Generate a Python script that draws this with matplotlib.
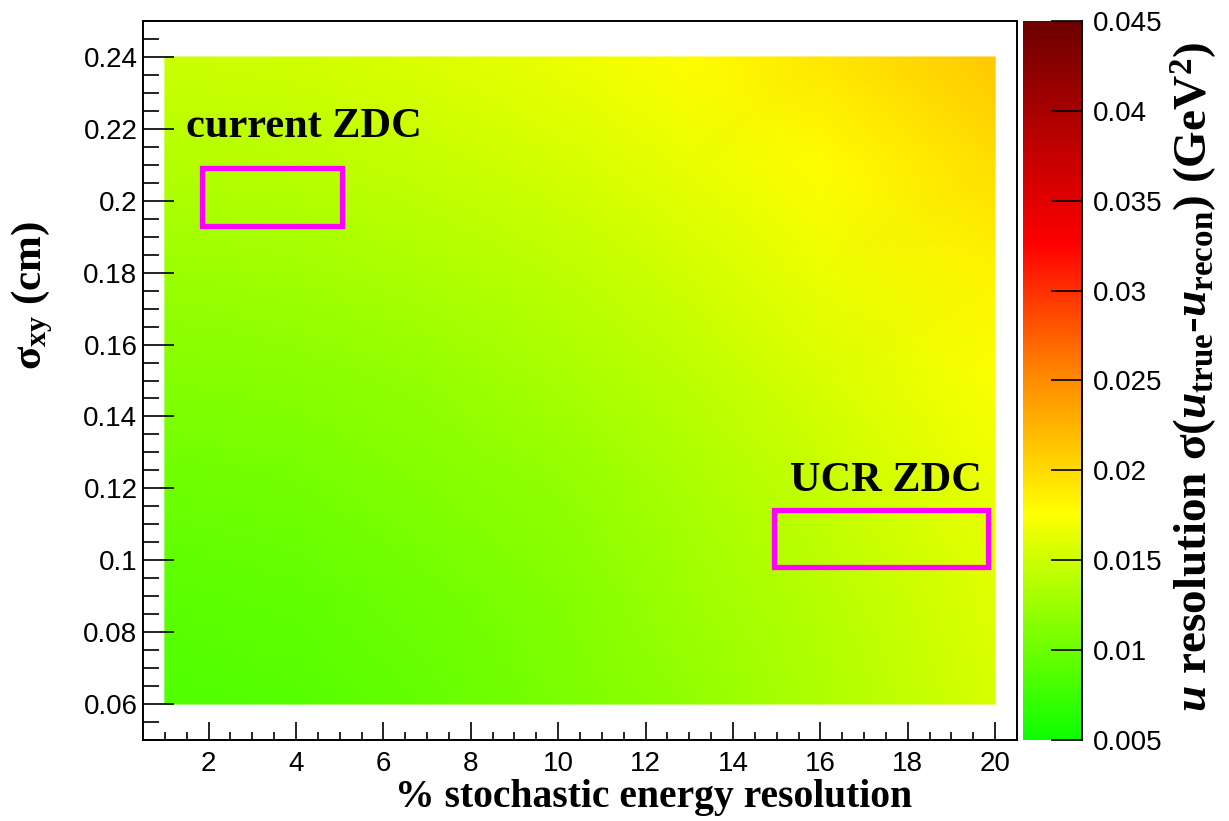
import numpy as np
import matplotlib
matplotlib.use('Agg')
import matplotlib.pyplot as plt
from matplotlib.colors import LinearSegmentedColormap
from matplotlib.patches import Rectangle
from matplotlib.ticker import MultipleLocator, FuncFormatter

# stochastic energy resolution (%) and position resolution sigma_xy (cm)
stoch = [1, 4, 7, 10, 13, 16, 20]
sigma_xy = [0.06, 0.09, 0.12, 0.15, 0.18, 0.21, 0.24]

# u resolution (GeV^2), one row per sigma_xy value
u_res = [
    [0.0085, 0.0089, 0.0096, 0.0107, 0.0119, 0.0134, 0.0155],
    [0.0092, 0.0095, 0.0102, 0.0112, 0.0125, 0.0139, 0.0160],
    [0.0101, 0.0104, 0.0111, 0.0120, 0.0132, 0.0146, 0.0166],
    [0.0112, 0.0115, 0.0121, 0.0130, 0.0141, 0.0155, 0.0174],
    [0.0124, 0.0127, 0.0133, 0.0142, 0.0153, 0.0166, 0.0184],
    [0.0137, 0.0140, 0.0146, 0.0154, 0.0165, 0.0178, 0.0197],
    [0.0150, 0.0153, 0.0159, 0.0167, 0.0178, 0.0191, 0.0212],
]

# detector boxes: label, (x0, x1), (y0, y1), label position
boxes = [
    ('current ZDC', (1.85, 5.05), (0.193, 0.209), (1.48, 0.2178)),
    ('UCR ZDC', (14.95, 19.83), (0.098, 0.114), (15.3, 0.1193)),
]

plt.rcParams['mathtext.fontset'] = 'custom'
plt.rcParams['mathtext.rm'] = 'Liberation Serif:bold'
plt.rcParams['mathtext.bf'] = 'Liberation Serif:bold'
plt.rcParams['mathtext.it'] = 'Liberation Serif:bold:italic'
plt.rcParams['mathtext.sf'] = 'Liberation Serif:bold'

cmap = LinearSegmentedColormap.from_list('root', [
    (0.0, (0.05, 1.0, 0.0)),
    (0.315, (1.0, 1.0, 0.0)),
    (0.5, (1.0, 0.55, 0.0)),
    (0.69, (1.0, 0.0, 0.0)),
    (1.0, (0.43, 0.0, 0.0)),
])

W, H = 1229, 821
fig = plt.figure(figsize=(W / 100, H / 100), dpi=100)
ax = fig.add_axes([143 / W, 81 / H, 874 / W, 719 / H])
cax = fig.add_axes([1023 / W, 81 / H, 59 / W, 719 / H])

mesh = ax.pcolormesh(stoch, sigma_xy, np.array(u_res), shading='gouraud',
                     cmap=cmap, vmin=0.005, vmax=0.045)

for label, (x0, x1), (y0, y1), (tx, ty) in boxes:
    ax.add_patch(Rectangle((x0, y0), x1 - x0, y1 - y0, fill=False,
                           ec='#ff00ff', lw=3.8))
    ax.text(tx, ty, label, family='Liberation Serif', weight='bold',
            fontsize=30.5, color='black')

ax.set_xlim(0.5, 20.5)
ax.set_ylim(0.05, 0.25)
ax.xaxis.set_major_locator(MultipleLocator(2))
ax.xaxis.set_minor_locator(MultipleLocator(0.5))
ax.yaxis.set_major_locator(MultipleLocator(0.02))
ax.yaxis.set_minor_locator(MultipleLocator(0.005))
fmt = FuncFormatter(lambda v, p: '%g' % round(v, 4))
ax.xaxis.set_major_formatter(fmt)
ax.yaxis.set_major_formatter(fmt)
ax.tick_params(axis='x', which='major', direction='in', length=13, width=1.2, pad=8)
ax.tick_params(axis='x', which='minor', direction='in', length=6, width=1.2)
ax.tick_params(axis='y', which='major', direction='in', length=22, width=1.2, pad=4)
ax.tick_params(axis='y', which='minor', direction='in', length=11.5, width=1.2)
for lab in ax.get_xticklabels() + ax.get_yticklabels():
    lab.set_family('Liberation Sans')
    lab.set_fontsize(20)
for s in ax.spines.values():
    s.set_linewidth(1.4)

cbar = fig.colorbar(mesh, cax=cax)
cbar.outline.set_visible(False)
cax.plot([1, 1], [0, 1], transform=cax.transAxes, color='k', lw=1.4, clip_on=False)
cbar.set_ticks(np.arange(0.005, 0.0451, 0.005))
cbar.ax.yaxis.set_major_formatter(fmt)
cax.tick_params(axis='y', which='major', direction='in', length=22, width=1.2, pad=8)
cax.minorticks_off()
for lab in cax.get_yticklabels():
    lab.set_family('Liberation Sans')
    lab.set_fontsize(20)

fig.text(654 / W, 1 - 807 / H, '% stochastic energy resolution',
         family='Liberation Serif', weight='bold', fontsize=28.5,
         ha='center', va='baseline')
fig.text(10 / W, 1 - 295 / H, r'$\mathrm{\sigma}_{\mathrm{xy}}$ (cm)',
         family='Liberation Serif', weight='bold', fontsize=31,
         rotation=90, ha='left', va='center')
fig.text(1168 / W, 1 - 377 / H,
         r'$\mathit{u}$ resolution $\mathrm{\sigma}($$\mathit{u}_{\mathrm{true}}$-$\mathit{u}_{\mathrm{recon}}$) (GeV$^{2}$)',
         family='Liberation Serif', weight='bold', fontsize=34,
         rotation=90, ha='left', va='center')

fig.savefig('out.png', dpi=100)
